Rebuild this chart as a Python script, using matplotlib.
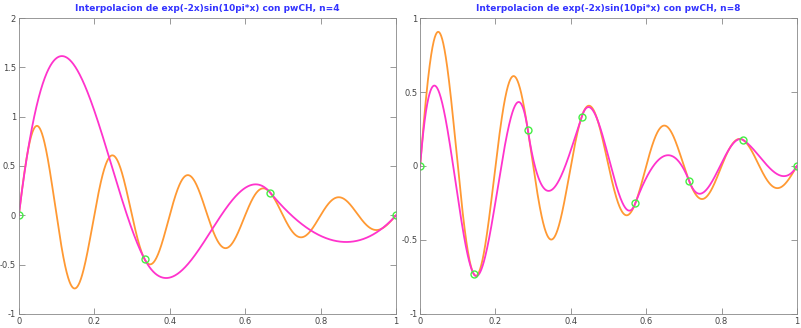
import numpy as np
import matplotlib
matplotlib.use("Agg")
import matplotlib.pyplot as plt

# function named in the titles
title_fmt = "Interpolacion de exp(-2x)sin(10pi*x) con pwCH, n={}"
n_values = [4, 8]
ylims = [(-1, 2), (-1, 1)]
yticks = [[-1, -0.5, 0, 0.5, 1, 1.5, 2], [-1, -0.5, 0, 0.5, 1]]
xticks = [0, 0.2, 0.4, 0.6, 0.8, 1]
ytick_labels = [["-1", "-0.5", "0", "0.5", "1", "1.5", "2"], ["-1", "-0.5", "0", "0.5", "1"]]
xtick_labels = ["0", "0.2", "0.4", "0.6", "0.8", "1"]


def f(x):
    return np.exp(-2 * x) * np.sin(10 * np.pi * x)


def df(x):
    return np.exp(-2 * x) * (-2 * np.sin(10 * np.pi * x) + 10 * np.pi * np.cos(10 * np.pi * x))


def pwch(nodes, xx):
    y = np.zeros_like(xx)
    for i in range(len(nodes) - 1):
        a, b = nodes[i], nodes[i + 1]
        h = b - a
        m = (xx >= a) & (xx <= b)
        s = (xx[m] - a) / h
        h00 = 2 * s**3 - 3 * s**2 + 1
        h10 = s**3 - 2 * s**2 + s
        h01 = -2 * s**3 + 3 * s**2
        h11 = s**3 - s**2
        y[m] = h00 * f(a) + h10 * h * df(a) + h01 * f(b) + h11 * h * df(b)
    return y


fig = plt.figure(figsize=(8.01, 3.28), dpi=100)
positions = [[0.0235, 0.043, 0.471, 0.902], [0.5245, 0.043, 0.4705, 0.902]]
gray = "#888888"
xx = np.linspace(0, 1, 1500)

for k, n in enumerate(n_values):
    ax = fig.add_axes(positions[k])
    nodes = np.linspace(0, 1, n)
    ax.plot(xx, f(xx), color="#ff9933", lw=1.3)
    ax.plot(xx, pwch(nodes, xx), color="#ff33cc", lw=1.3)
    ax.plot(nodes, f(nodes), "o", mfc="none", mec="#44ee44", ms=5, mew=1.0)
    ax.set_xlim(0, 1)
    ax.set_ylim(*ylims[k])
    ax.set_xticks(xticks)
    ax.set_xticklabels(xtick_labels)
    ax.set_yticks(yticks[k])
    ax.set_yticklabels(ytick_labels[k])
    ax.tick_params(direction="in", top=True, right=True, length=4, width=0.6,
                   colors=gray, labelsize=6, labelcolor="#444444", pad=2)
    for sp in ax.spines.values():
        sp.set_color(gray)
        sp.set_linewidth(0.6)
    ax.set_title(title_fmt.format(n), color="#3333ff", fontsize=6.5,
                 fontweight="bold", pad=5)

fig.savefig("out.png", dpi=100)
